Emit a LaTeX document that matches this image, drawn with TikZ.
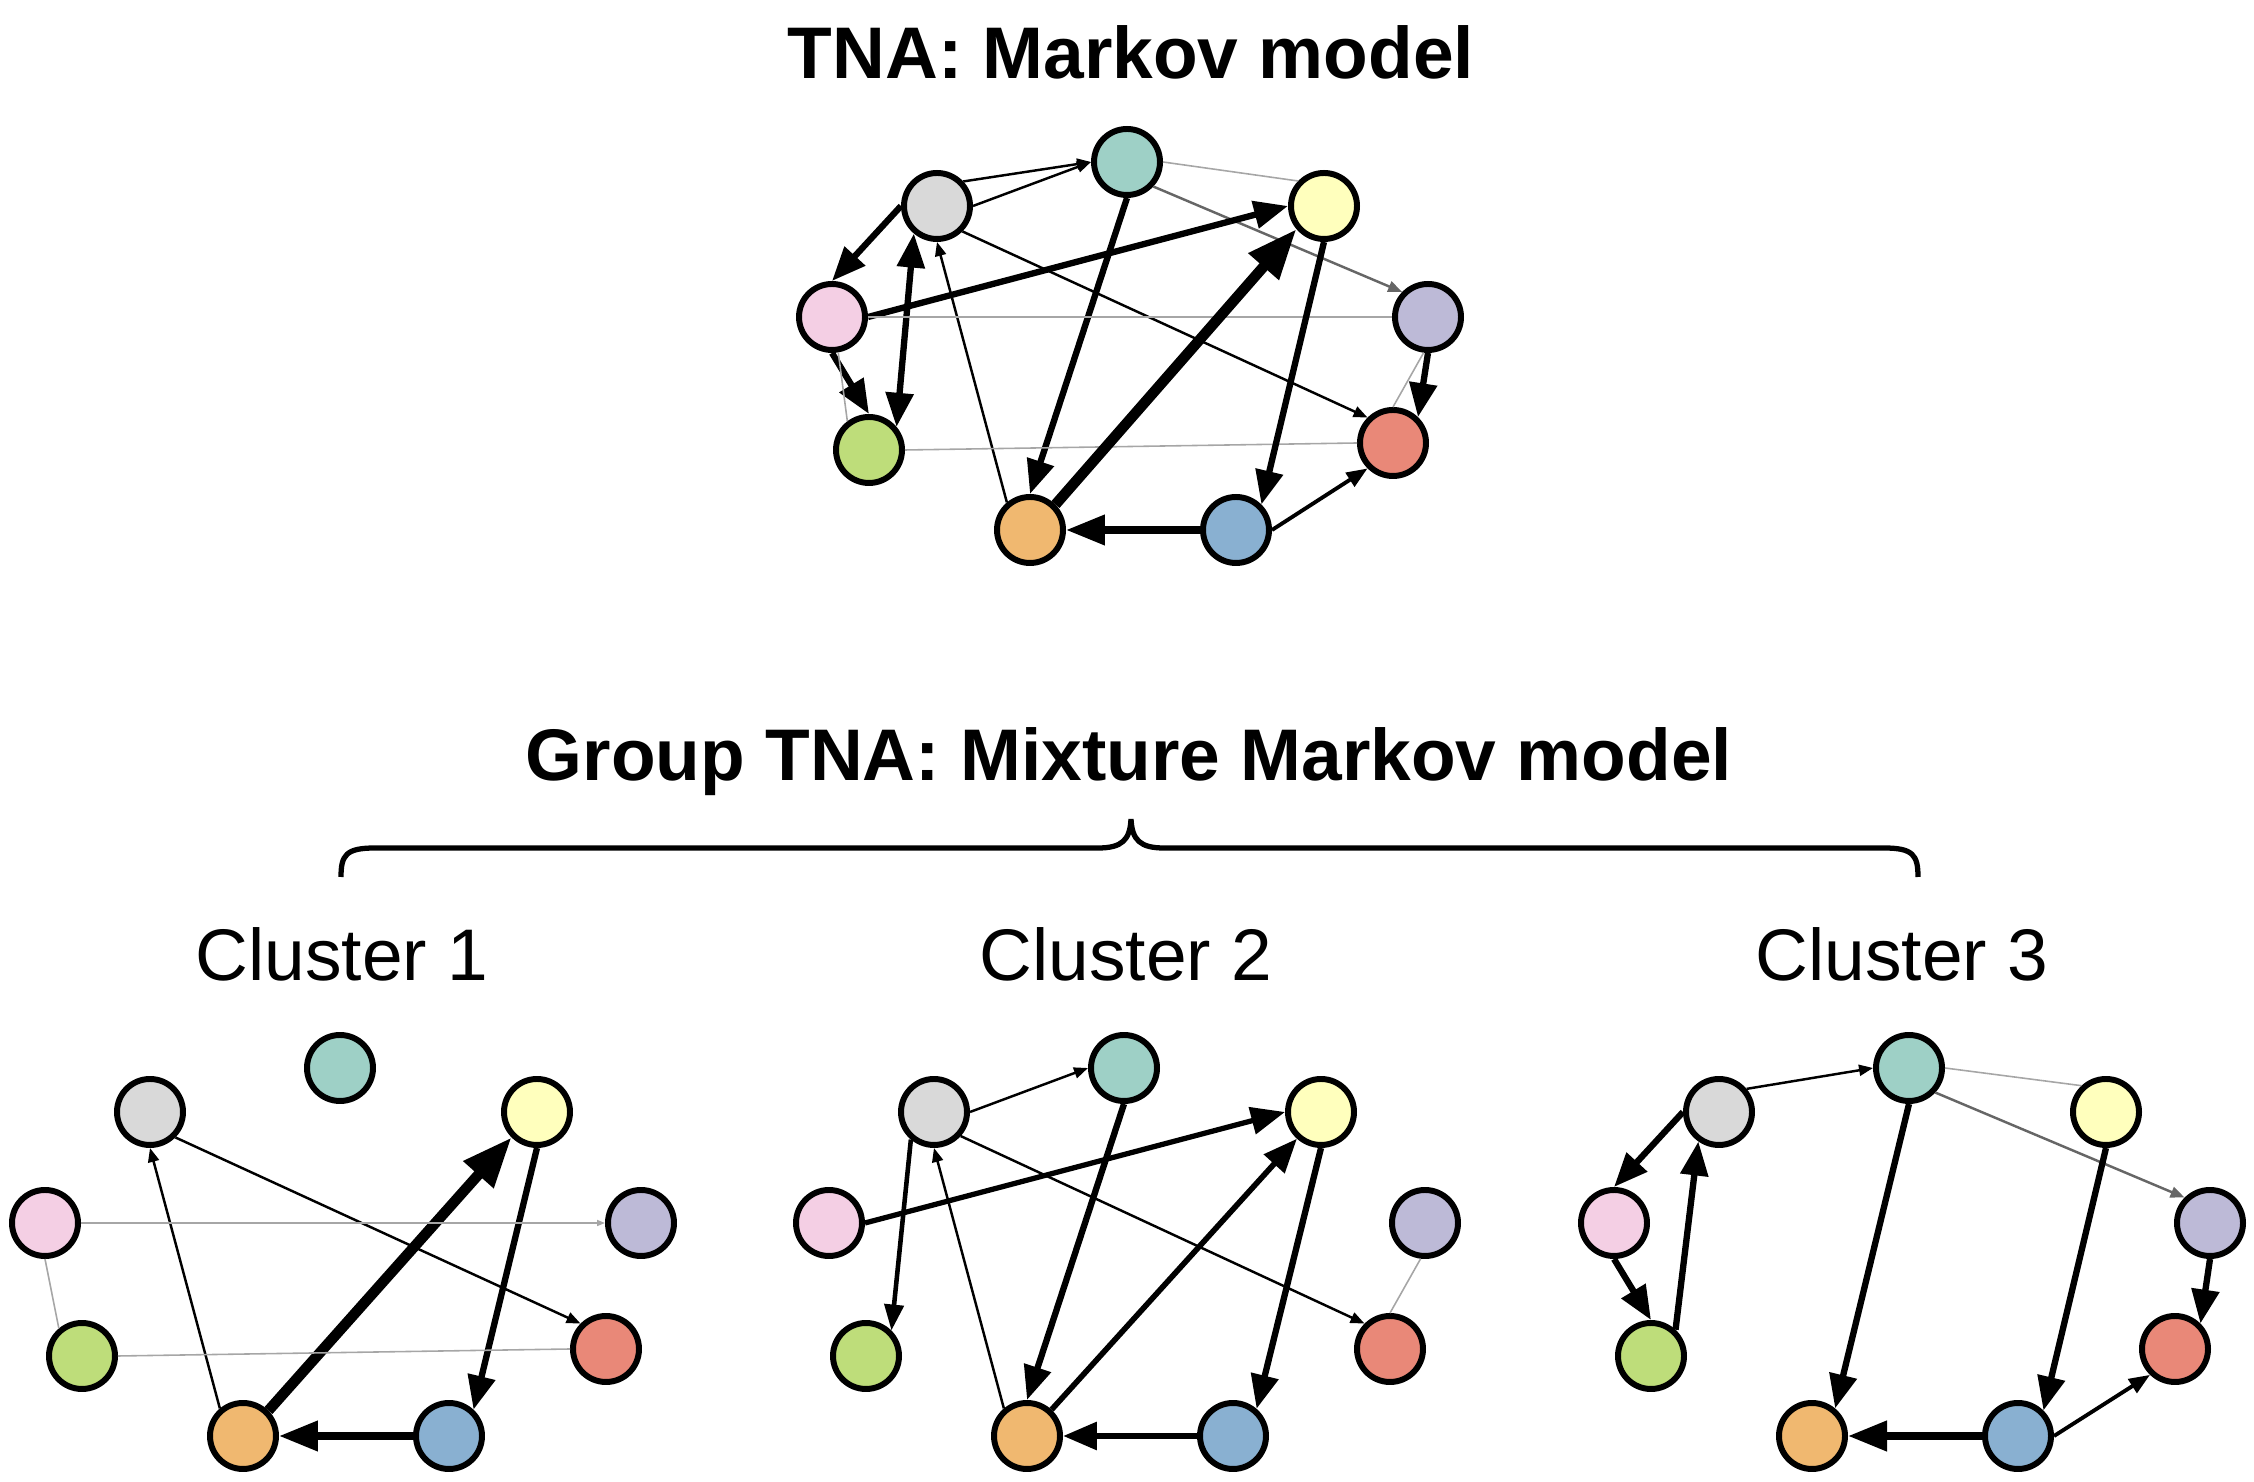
\documentclass[tikz,border=0pt]{standalone}
\usepackage{fontspec}
\setmainfont{Liberation Sans}
\usetikzlibrary{arrows.meta}

\definecolor{cteal}{HTML}{9ED0C6}
\definecolor{cgray}{HTML}{D9D9D9}
\definecolor{cyellow}{HTML}{FFFFBD}
\definecolor{cpink}{HTML}{F4CFE4}
\definecolor{cpurple}{HTML}{BDBAD7}
\definecolor{cgreen}{HTML}{BEDD7A}
\definecolor{cred}{HTML}{E98878}
\definecolor{corange}{HTML}{F0B870}
\definecolor{cblue}{HTML}{89B0D1}

\begin{document}
\begin{tikzpicture}[
  st/.style={draw, circle, line width=1.7pt, minimum size=0.66cm, inner sep=0pt},
  lnfaint/.style={line width=0.45pt, draw=black!35},
  lnthin/.style={line width=0.7pt, >={Triangle[length=0.14cm,width=0.11cm]}, ->},
  lnmid/.style={line width=1.1pt, >={Triangle[length=0.21cm,width=0.16cm]}, ->},
  lnthick/.style={line width=1.8pt, >={Triangle[length=0.34cm,width=0.27cm]}, ->},
  lnheavy/.style={line width=2.1pt, >={Triangle[length=0.39cm,width=0.29cm]}, ->},
  lnmax/.style={line width=3pt, >={Triangle[length=0.5cm,width=0.38cm]}, ->},
  ttl/.style={font=\fontsize{20.8}{25}\selectfont\bfseries, anchor=base},
  lbl/.style={font=\fontsize{20.8}{25}\selectfont, anchor=base}
]
\useasboundingbox (0,0) rectangle (22.54,-14.82);

% titles
\node[ttl] (T1) at (11.31,-0.79) {TNA: Markov model};
\node[ttl] (T2) at (11.29,-7.81) {Group TNA: Mixture Markov model};
\node[lbl] (L1) at (3.42,-9.81) {Cluster 1};
\node[lbl] (L2) at (11.26,-9.81) {Cluster 2};
\node[lbl] (L3) at (19.02,-9.81) {Cluster 3};

% brace
\draw[line width=1.5pt] (3.41,-8.77) .. controls (3.41,-8.55) and (3.46,-8.48) .. (3.75,-8.48)
  -- (10.98,-8.48) .. controls (11.22,-8.48) and (11.30,-8.40) .. (11.31,-8.19)
  .. controls (11.32,-8.40) and (11.40,-8.48) .. (11.64,-8.48)
  -- (18.84,-8.48) .. controls (19.13,-8.48) and (19.18,-8.55) .. (19.18,-8.77);

% markov model
\node[st, fill=cteal] (M-teal) at (11.27,-1.62) {};
\node[st, fill=cgray] (M-gray) at (9.37,-2.06) {};
\node[st, fill=cyellow] (M-yellow) at (13.24,-2.06) {};
\node[st, fill=cpink] (M-pink) at (8.32,-3.17) {};
\node[st, fill=cpurple] (M-purple) at (14.28,-3.17) {};
\node[st, fill=cgreen] (M-green) at (8.69,-4.50) {};
\node[st, fill=cred] (M-red) at (13.93,-4.43) {};
\node[st, fill=corange] (M-orange) at (10.30,-5.30) {};
\node[st, fill=cblue] (M-blue) at (12.36,-5.30) {};

\draw[lnthin] (M-gray.43) -- (M-teal.west);
\draw[lnthin] (M-gray.east) -- (M-teal.west);
\draw[lnfaint] (M-teal.east) -- (M-yellow.136);
\draw[lnthin, draw=black!60] (M-teal.-43) -- (M-purple.136);
\draw[lnthick] (M-teal.south) -- (M-orange.north);
\draw[lnthick] (M-gray.west) -- (M-pink.north);
\draw[lnthick, <->] (M-gray.-130) -- (M-green.40);
\draw[lnthin] (M-gray.-45) -- (M-red.135);
\draw[lnthin] (M-orange.130) -- (M-gray.south);
\draw[lnthick] (M-pink.east) -- (M-yellow.west);
\draw[lnfaint] (M-pink.east) -- (M-purple.west);
\draw[lnthick] (M-pink.south) -- (M-green.north);
\draw[lnfaint] (M-pink.-80) -- (M-green.127);
\draw[lnfaint] (M-green.east) -- (M-red.west);
\draw[lnmax] (M-orange.45) -- (M-yellow.-140);
\draw[lnthick] (M-yellow.south) -- (M-blue.45);
\draw[lnheavy] (M-blue.west) -- (M-orange.east);
\draw[lnmid] (M-blue.east) -- (M-red.-135);
\draw[lnthick] (M-purple.south) -- (M-red.46);
\draw[lnfaint] (M-purple.-97) -- (M-red.north);

% cluster 1
\begin{scope}[xshift=-7.87cm, yshift=-9.06cm]
\node[st, fill=cteal] (C1-teal) at (11.27,-1.62) {};
\node[st, fill=cgray] (C1-gray) at (9.37,-2.06) {};
\node[st, fill=cyellow] (C1-yellow) at (13.24,-2.06) {};
\node[st, fill=cpink] (C1-pink) at (8.32,-3.17) {};
\node[st, fill=cpurple] (C1-purple) at (14.28,-3.17) {};
\node[st, fill=cgreen] (C1-green) at (8.69,-4.50) {};
\node[st, fill=cred] (C1-red) at (13.93,-4.43) {};
\node[st, fill=corange] (C1-orange) at (10.30,-5.30) {};
\node[st, fill=cblue] (C1-blue) at (12.36,-5.30) {};
\end{scope}

\draw[lnthin] (C1-gray.-45) -- (C1-red.135);
\draw[lnthin] (C1-orange.130) -- (C1-gray.south);
\draw[lnmax] (C1-orange.45) -- (C1-yellow.-135);
\draw[lnthick] (C1-yellow.south) -- (C1-blue.47);
\draw[lnheavy] (C1-blue.west) -- (C1-orange.east);
\draw[lnfaint, >={Triangle[length=0.08cm,width=0.06cm]}, ->] (C1-pink.east) -- (C1-purple.west);
\draw[lnfaint] (C1-pink.south) -- (C1-green.130);
\draw[lnfaint] (C1-green.east) -- (C1-red.west);

% cluster 2
\begin{scope}[xshift=-0.03cm, yshift=-9.06cm]
\node[st, fill=cteal] (C2-teal) at (11.27,-1.62) {};
\node[st, fill=cgray] (C2-gray) at (9.37,-2.06) {};
\node[st, fill=cyellow] (C2-yellow) at (13.24,-2.06) {};
\node[st, fill=cpink] (C2-pink) at (8.32,-3.17) {};
\node[st, fill=cpurple] (C2-purple) at (14.28,-3.17) {};
\node[st, fill=cgreen] (C2-green) at (8.69,-4.50) {};
\node[st, fill=cred] (C2-red) at (13.93,-4.43) {};
\node[st, fill=corange] (C2-orange) at (10.30,-5.30) {};
\node[st, fill=cblue] (C2-blue) at (12.36,-5.30) {};
\end{scope}

\draw[lnthin] (C2-gray.east) -- (C2-teal.west);
\draw[lnthick, line width=1.3pt, >={Triangle[length=0.26cm,width=0.19cm]}, ->] (C2-gray.-130) -- (C2-green.45);
\draw[lnthin] (C2-gray.-42) -- (C2-red.135);
\draw[lnthin] (C2-orange.130) -- (C2-gray.south);
\draw[lnthick, line width=1.5pt] (C2-pink.east) -- (C2-yellow.west);
\draw[lnthick] (C2-teal.south) -- (C2-orange.north);
\draw[lnthick, line width=1.6pt] (C2-orange.47) -- (C2-yellow.-132);
\draw[lnthick] (C2-yellow.south) -- (C2-blue.49);
\draw[lnthick] (C2-blue.west) -- (C2-orange.east);
\draw[lnfaint] (C2-purple.-97) -- (C2-red.north);

% cluster 3
\begin{scope}[xshift=7.82cm, yshift=-9.06cm]
\node[st, fill=cteal] (C3-teal) at (11.27,-1.62) {};
\node[st, fill=cgray] (C3-gray) at (9.37,-2.06) {};
\node[st, fill=cyellow] (C3-yellow) at (13.24,-2.06) {};
\node[st, fill=cpink] (C3-pink) at (8.32,-3.17) {};
\node[st, fill=cpurple] (C3-purple) at (14.28,-3.17) {};
\node[st, fill=cgreen] (C3-green) at (8.69,-4.50) {};
\node[st, fill=cred] (C3-red) at (13.93,-4.43) {};
\node[st, fill=corange] (C3-orange) at (10.30,-5.30) {};
\node[st, fill=cblue] (C3-blue) at (12.36,-5.30) {};
\end{scope}

\draw[lnthin] (C3-gray.40) -- (C3-teal.west);
\draw[lnfaint] (C3-teal.east) -- (C3-yellow.133);
\draw[lnthin, draw=black!60] (C3-teal.-43) -- (C3-purple.135);
\draw[lnthick] (C3-teal.south) -- (C3-orange.50);
\draw[lnthick] (C3-gray.west) -- (C3-pink.north);
\draw[lnthick] (C3-pink.south) -- (C3-green.north);
\draw[lnthick] (C3-green.47) -- (C3-gray.-125);
\draw[lnthick] (C3-yellow.south) -- (C3-blue.45);
\draw[lnthick] (C3-purple.south) -- (C3-red.45);
\draw[lnheavy] (C3-blue.west) -- (C3-orange.east);
\draw[lnmid] (C3-blue.east) -- (C3-red.-134);

\end{tikzpicture}
\end{document}
